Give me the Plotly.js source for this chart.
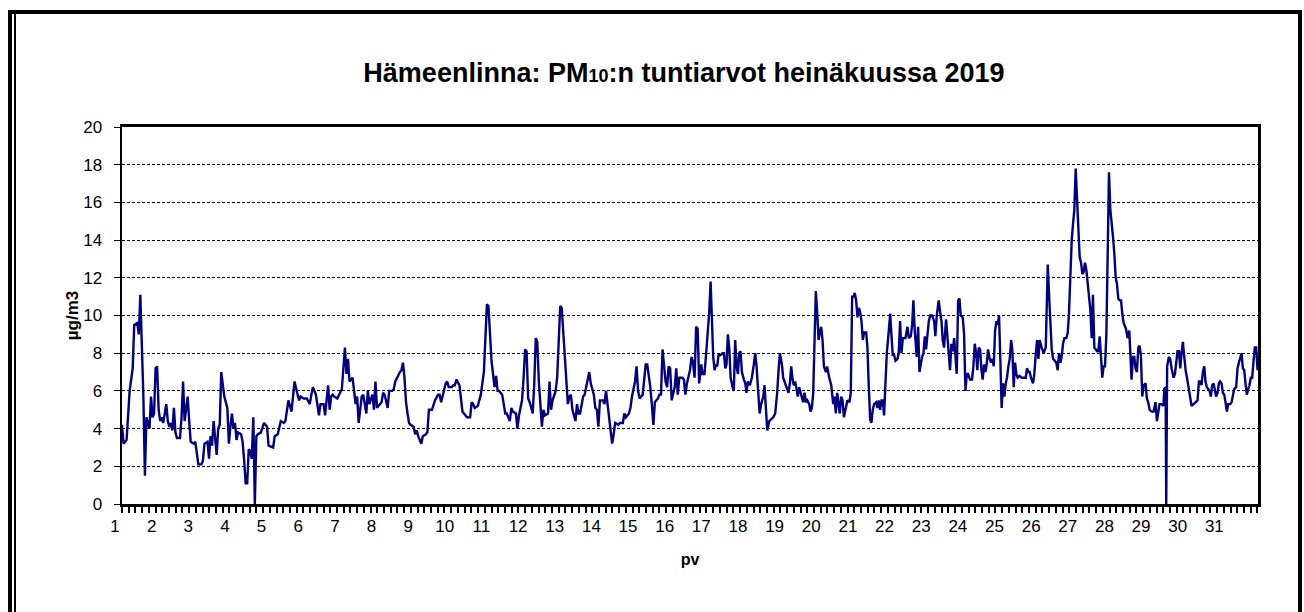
<!DOCTYPE html>
<html>
<head>
<meta charset="utf-8">
<script src="https://cdn.plot.ly/plotly-3.0.1.min.js"></script>
<style>
  html, body { margin: 0; padding: 0; background: #fff; }
  #wrap { position: relative; width: 1304px; height: 612px; overflow: hidden; background: #fff; }
  #chart { position: absolute; left: 0; top: 0; width: 1304px; height: 612px; }
  .frame { position: absolute; background: #000; pointer-events: none; }
</style>
</head>
<body>
<div id="wrap">
  <div id="chart"></div>
  <div class="frame" style="left:8px; top:10px; width:1294px; height:4px;"></div>
  <div class="frame" style="left:8px; top:10px; width:4px; height:602px;"></div>
  <div class="frame" style="left:14px; top:14px; width:2px; height:598px;"></div>
  <div class="frame" style="left:1298px; top:10px; width:4px; height:602px;"></div>
</div>
<script>
// Day labels on the x axis (one label per day of July 2019)
const dayLabels = ['1','2','3','4','5','6','7','8','9','10','11','12','13','14','15','16',
  '17','18','19','20','21','22','23','24','25','26','27','28','29','30','31'];
const yTickValues = [0, 2, 4, 6, 8, 10, 12, 14, 16, 18, 20];

// Hour of the month (0 = 1 July 00:00) and PM10 hourly value (µg/m3)
const hourOfMonth = [
0,1,3,5,7,8,10,11,12,13,14,15,16,17,18,19,20,21,22,23,24,25,26,27,29,30,31,32,33,34,35,36,38,39,40,41,42,43,44,45,47,48,50,52,53,54,56,57,58,59,60,62,63,64,65,67,69,70,71,72,73,74,75,76,78,79,80,81,82,83,84,85,86,87,88,89,91,
93,95,96,99,100,102,103,104,106,107,109,111,112,113,115,116,117,119,121,123,124,125,127,128,129,130,132,133,134,135,136,137,138,139,141,142,143,144,146,147,148,149,151,152,153,154,155,157,158,160,161,162,164,165,166,167,168,170,171,172,174,175,177,178,179,181,182,183,184,185,186,187,188,
189,191,192,193,194,196,197,199,200,201,203,204,205,207,208,209,211,212,213,214,216,217,218,219,221,222,223,225,226,228,229,230,231,233,235,236,237,238,239,240,241,242,244,245,246,247,249,250,251,252,254,255,256,258,259,260,262,263,264,265,266,267,269,270,271,272,273,275,276,277,279,280,281,282,283,
284,285,287,288,289,291,292,293,294,295,297,298,299,300,302,303,304,306,307,309,310,311,312,313,315,316,317,318,319,321,322,323,325,326,328,329,330,332,333,334,336,337,338,339,341,342,343,344,346,347,348,349,350,351,352,353,354,356,357,358,359,360,362,363,364,365,367,368,369,370,372,373,374,375,376,377,378,
379.4,380.2,381.5,382.6,383.7,384.6,385.5,386.3,387.2,388.1,389.0,389.8,390.7,392.0,393.3,394.2,395.1,395.9,396.8,397.7,398.6,399.9,400.7,401.6,402.5,403.4,404.2,405.1,406.0,407.3,408.2,409.0,409.9,411.2,412.5,413.8,414.7,415.6,416.5,417.6,418.6,420.0,420.8,421.7,422.6,423.9,425.2,426.5,427.8,429.1,430.0,430.9,432.2,433.0,433.9,435.2,436.5,437.4,438.3,439.2,440.0,440.9,441.8,442.6,443.5,444.4,445.3,446.1,447.0,447.9,448.8,450.1,450.9,451.8,452.7,453.6,454.4,455.3,456.2,457.0,457.9,458.8,459.7,461.0,461.8,463.2,464.5,465.8,466.6,467.5,468.4,469.3,470.1,471.0,471.9,472.8,
474.3,475.1,476.4,477.3,478.2,479.1,479.9,480.8,481.7,482.6,483.4,484.3,485.2,486.0,487.4,488.2,489.1,490.0,490.8,491.7,492.6,493.9,494.8,495.6,496.5,497.4,498.3,499.1,500.0,500.9,502.2,503.1,503.9,504.8,505.7,506.6,507.9,508.7,509.6,510.5,511.4,512.2,513.1,514.4,515.3,516.6,517.5,518.3,519.2,520.5,521.4,522.3,523.1,524.0,524.9,525.8,526.6,527.5,528.4,529.3,530.6,531.9,532.7,533.6,534.9,535.8,536.7,537.5,538.4,539.7,540.6,541.5,542.3,543.2,544.1,545.0,545.8,546.7,547.6,548.5,549.3,550.6,551.5,552.4,553.3,554.1,555.4,556.7,557.6,558.5,559.4,560.2,561.1,562.0,562.9,563.7,564.6,565.5,566.3,567.2,
568.3,569.2,570.0,570.9,571.8,572.7,573.5,574.4,575.3,576.1,577.0,577.9,578.8,579.6,580.5,581.4,582.3,583.1,584.0,584.9,585.7,586.6,587.9,589.2,590.5,591.9,592.7,593.6,594.5,595.3,596.7,597.5,598.4,599.3,600.2,601.0,602.3,603.6,605.0,606.3,607.1,608.0,608.9,609.8,610.6,611.9,612.8,613.7,614.6,615.4,616.3,617.2,618.5,619.4,620.2,621.1,622.0,622.8,623.7,624.6,625.5,626.3,627.2,628.1,629.0,629.8,630.7,631.6,632.4,633.3,634.2,635.1,635.9,636.8,637.7,638.6,639.4,640.3,641.2,642.0,642.9,643.8,644.7,645.5,646.4,647.3,648.2,649.0,649.9,650.8,651.6,652.5,653.4,654.3,655.1,656.0,
657.5,658.6,659.7,660.3,661.2,662.1,663.0,663.8,664.7,665.6,666.4,667.3,668.2,669.1,670.4,671.2,672.1,673.0,674.3,675.6,676.9,677.8,678.7,679.5,680.8,682.1,682.6,683.5,683.9,684.5,685.6,686.5,687.4,688.7,689.6,690.4,691.3,692.2,693.1,693.9,694.8,695.7,696.6,697.9,699.2,700.5,701.8,703.1,704.4,705.3,706.2,707.0,707.9,708.8,709.6,710.5,711.4,712.3,713.1,714.0,714.9,715.8,716.6,717.5,718.4,719.2,720.1,721.0,721.9,722.7,723.6,724.5,725.8,726.7,727.5,728.4,729.7,730.6,731.5,732.3,733.2,734.1,735.0,735.8,736.7,737.6,738.4,739.3,740.2,741.1,741.9,742.8,743.7
];

const pm10Hourly = [
4.2,3.2,3.4,6.0,7.2,9.5,9.6,9.0,11.1,8.8,5.7,1.5,4.6,4.3,4.0,5.7,4.6,4.8,7.2,7.3,5.0,4.4,4.6,4.3,5.3,4.4,4.1,4.3,3.9,5.1,3.8,3.5,3.5,4.6,6.5,4.4,5.0,5.7,4.4,3.3,3.2,3.3,2.1,2.1,2.3,3.2,3.3,2.4,3.6,3.1,4.4,2.6,4.0,4.2,7.0,5.7,5.1,3.2,4.1,4.8,4.0,4.3,3.4,3.8,3.7,3.3,2.3,1.1,1.1,2.9,2.8,2.4,4.6,0.0,3.6,3.7,3.8,
4.3,4.1,3.1,3.0,3.6,3.7,4.1,4.4,4.3,4.4,5.5,4.9,5.7,6.5,5.8,5.5,5.7,5.6,5.6,5.3,5.8,6.2,5.8,5.1,4.7,5.3,5.3,4.7,5.5,6.3,5.0,5.7,5.8,5.7,5.6,5.8,6.0,6.1,8.3,6.9,7.7,6.5,6.7,5.8,5.3,5.7,4.3,5.7,5.8,4.8,6.0,5.3,5.8,5.0,6.5,5.1,5.2,5.4,5.9,5.8,5.1,6.0,6.0,6.1,6.5,6.9,7.0,7.1,7.5,6.7,5.4,4.8,4.3,
4.2,4.1,3.7,3.9,3.6,3.2,3.6,3.7,3.8,5.0,5.0,5.3,5.5,5.8,5.8,5.4,6.1,6.4,6.5,6.2,6.2,6.3,6.3,6.6,6.3,5.5,4.9,4.7,4.6,4.6,5.4,5.3,5.1,5.2,5.8,6.4,7.0,8.8,10.6,10.5,9.3,7.6,6.2,6.8,6.0,6.0,5.8,5.3,4.8,4.8,4.4,5.1,4.9,4.8,4.0,4.7,5.5,6.7,8.2,8.1,5.6,5.4,4.8,6.4,8.8,8.6,6.5,4.1,5.0,4.7,4.8,6.5,5.0,5.5,5.7,
6.0,6.7,10.5,10.4,9.2,6.5,5.3,5.7,5.8,5.0,4.4,5.3,4.8,4.8,5.7,5.8,6.2,7.0,6.4,5.8,5.1,5.0,4.1,5.5,5.5,5.3,6.0,5.3,4.4,3.2,3.7,4.3,4.2,4.3,4.3,4.8,4.6,4.8,5.1,5.7,6.5,7.3,6.0,5.6,5.8,6.5,7.4,7.4,6.2,5.3,4.2,5.4,5.5,5.6,5.8,5.8,8.2,6.5,6.2,7.3,7.2,5.5,6.2,7.2,5.8,6.7,6.7,6.6,5.8,6.4,7.1,7.8,7.5,6.7,9.4,9.3,6.4,
7.4,6.9,6.9,8.0,9.0,10.2,11.8,9.4,7.8,7.1,7.4,7.3,7.9,7.9,8.0,8.0,7.2,7.4,9.0,8.3,6.7,6.2,6.0,8.7,7.3,6.9,8.0,8.1,7.0,6.6,6.4,5.9,6.5,6.3,6.7,7.4,8.0,7.3,5.9,4.8,5.3,5.7,6.3,4.8,3.9,4.4,4.5,4.6,4.8,5.9,7.1,8.0,7.4,6.7,6.5,6.2,5.9,6.4,7.3,6.6,6.3,6.5,6.0,5.7,6.2,5.9,5.7,5.4,5.9,5.4,5.5,5.3,4.9,5.1,5.9,9.0,11.3,10.2,8.7,9.1,9.4,8.7,7.3,7.0,7.3,6.7,6.3,5.3,5.7,4.8,5.9,5.3,4.8,5.7,5.5,4.6,
5.2,5.5,5.4,5.9,11.0,11.0,11.2,10.8,9.9,10.4,10.2,9.7,8.7,9.1,9.1,8.3,6.2,4.5,4.3,5.0,5.3,5.4,5.1,5.5,5.0,5.5,5.5,4.7,6.4,8.0,9.2,10.1,9.0,7.9,7.9,7.6,7.7,8.0,9.7,8.0,8.8,8.8,8.8,9.4,8.8,8.9,9.5,10.8,9.2,7.8,9.4,7.0,7.4,7.8,8.0,8.9,8.2,9.0,9.7,10.0,10.0,9.7,8.9,10.0,10.8,10.2,9.7,8.7,8.3,9.8,8.7,8.0,7.1,8.5,8.1,8.8,7.8,6.9,10.8,10.9,10.0,9.9,9.0,6.0,6.9,6.9,6.6,6.6,7.3,8.5,8.0,7.1,8.3,8.2,7.1,6.6,7.4,7.0,7.4,8.2,
7.7,7.5,7.7,7.3,9.2,9.7,9.5,10.0,7.5,5.1,6.4,5.7,6.4,6.7,7.3,7.7,8.7,8.2,6.2,7.5,6.9,6.7,6.8,6.7,6.7,6.7,7.2,7.0,7.0,6.7,6.4,6.9,7.9,8.7,7.7,8.7,8.3,8.0,8.3,12.7,11.2,9.6,8.2,7.7,7.6,7.5,7.1,8.0,7.5,7.8,8.5,8.8,8.8,9.1,10.1,12.4,14.0,14.8,15.6,17.8,16.1,14.5,13.1,12.8,12.2,12.3,12.8,12.4,11.7,10.7,10.3,8.8,11.1,8.3,8.2,8.1,8.1,8.9,7.8,6.7,7.3,7.3,9.0,13.6,17.6,15.6,15.0,14.2,13.3,12.0,11.7,10.9,10.8,10.8,10.1,9.6,
9.3,8.8,9.2,7.8,6.6,7.8,7.8,7.2,7.0,8.3,8.4,7.9,5.7,6.3,6.4,5.6,5.4,5.0,4.9,4.9,5.4,4.4,5.0,5.3,5.3,5.2,6.1,6.2,0.0,7.3,7.8,7.7,7.2,6.7,6.9,7.4,8.1,8.1,7.2,8.0,8.6,7.8,7.1,6.5,5.7,5.2,5.3,5.4,5.5,6.5,6.5,6.3,7.0,7.3,6.5,6.2,6.1,6.0,5.7,6.3,6.4,6.1,5.7,5.9,6.4,6.5,6.4,5.9,5.8,5.4,4.9,5.3,5.3,5.4,5.8,6.1,6.2,7.2,7.5,7.8,8.0,7.2,7.1,6.4,5.8,6.1,6.3,6.7,6.7,7.6,8.3,8.3,7.1
];

const hoursInMonth = 744;
const dayStartHours = dayLabels.map((d, i) => i * 24);
const FONT = 'Liberation Sans, Arial, Helvetica, sans-serif';

const trace = {
  type: 'scatter',
  mode: 'lines',
  x: hourOfMonth,
  y: pm10Hourly,
  line: { color: '#000080', width: 2.4 },
  hoverinfo: 'skip',
  showlegend: false
};

const layout = {
  width: 1304,
  height: 612,
  margin: { l: 122, r: 46, t: 127, b: 108, pad: 0 },
  paper_bgcolor: 'rgba(0,0,0,0)',
  plot_bgcolor: '#ffffff',
  font: { family: FONT, color: '#000', size: 17 },
  showlegend: false,
  title: {
    text: 'Hämeenlinna: PM<span style="font-size:18px">10</span>:n tuntiarvot heinäkuussa 2019',
    font: { family: FONT, size: 27, color: '#000', weight: 700 },
    xref: 'container', x: 0.5245, xanchor: 'center',
    yref: 'container', y: 0.882, yanchor: 'middle'
  },
  xaxis: {
    range: [0, hoursInMonth],
    tickmode: 'array',
    tickvals: dayStartHours,
    ticktext: dayLabels,
    ticks: '',
    ticklabelshift: -7,
    ticklabelstandoff: 5,
    tickfont: { family: FONT, size: 17, color: '#000' },
    minor: {
      tickmode: 'linear',
      tick0: 0,
      dtick: 4.4,
      ticks: 'outside',
      ticklen: 6,
      tickwidth: 2,
      tickcolor: '#000',
      showgrid: false
    },
    showgrid: false,
    zeroline: false,
    showline: true,
    linecolor: '#000',
    linewidth: 3,
    mirror: true,
    title: { text: 'pv', font: { family: FONT, size: 16, color: '#000', weight: 700 }, standoff: 19 }
  },
  yaxis: {
    range: [0, 20],
    tickmode: 'array',
    tickvals: yTickValues,
    ticks: 'outside',
    ticklen: 6,
    tickwidth: 1,
    tickcolor: '#000',
    ticklabelstandoff: 8,
    tickfont: { family: FONT, size: 17, color: '#000' },
    showgrid: true,
    gridcolor: '#000',
    gridwidth: 1,
    griddash: '3px,2px',
    zeroline: false,
    showline: true,
    linecolor: '#000',
    linewidth: 2.5,
    mirror: true,
    title: { text: 'µg/m3', font: { family: FONT, size: 17, color: '#000', weight: 700 }, standoff: 0 }
  }
};

Plotly.newPlot('chart', [trace], layout, { staticPlot: true, displayModeBar: false });
</script>
</body>
</html>
